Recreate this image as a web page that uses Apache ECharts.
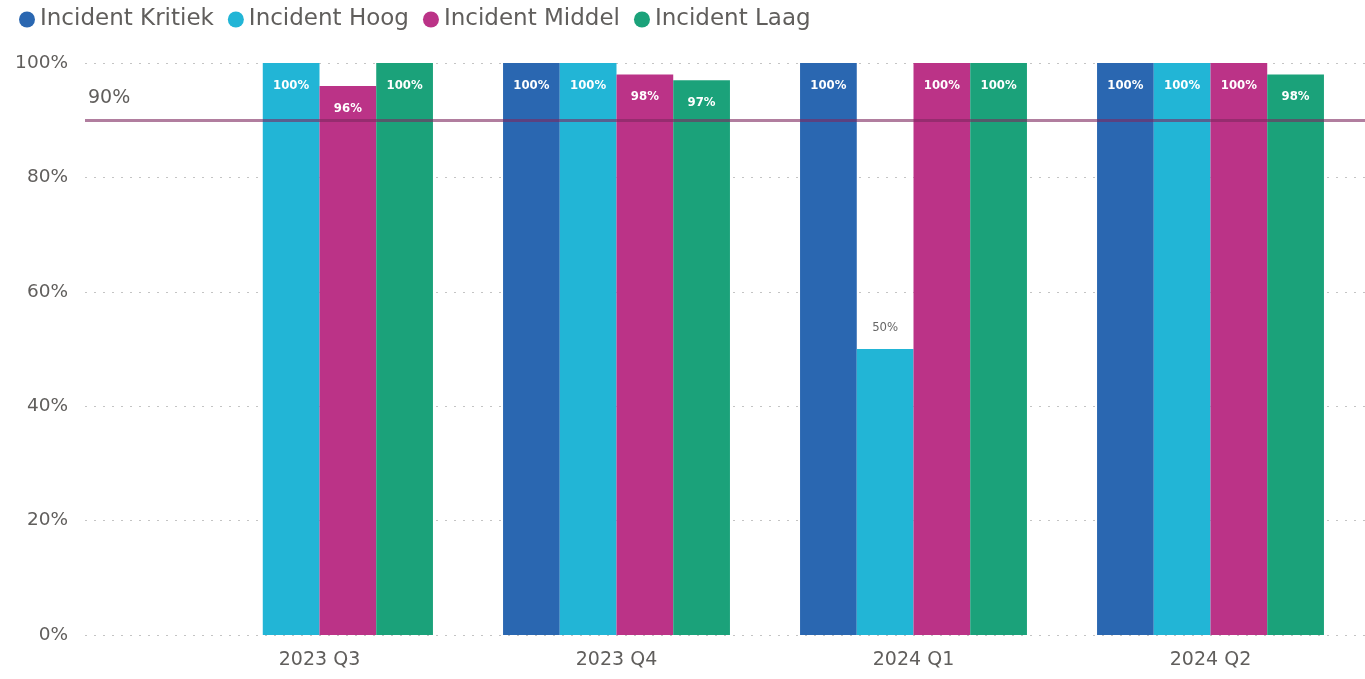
<!DOCTYPE html>
<html><head><meta charset="utf-8">
<script src="https://cdn.jsdelivr.net/npm/echarts@6/dist/echarts.min.js"></script>
<style>html,body{margin:0;padding:0;background:#fff}#c{width:1365px;height:679px}</style>
</head><body><div id="c"></div>
<script>
const categories = ['2023 Q3', '2023 Q4', '2024 Q1', '2024 Q2'];
const seriesNames = ['Incident Kritiek', 'Incident Hoog', 'Incident Middel', 'Incident Laag'];
const kritiek = [null, 100, 100, 100];
const hoog = [100, 100, 50, 100];
const middel = [96, 98, 100, 100];
const laag = [100, 97, 100, 98];
const yTicks = [0, 20, 40, 60, 80, 100];
const targetValue = 90;
const colors = ['#2A67B1', '#22B5D6', '#BB3387', '#1BA27A'];
const FONT = "'DejaVu Sans', sans-serif";
const FONT_C = "'DejaVu Sans Condensed', 'DejaVu Sans', sans-serif";

const values = [kritiek, hoog, middel, laag];
const chart = echarts.init(document.getElementById('c'));
const barSeries = values.map((arr, i) => ({
  name: seriesNames[i], type: 'bar', xAxisIndex: 1, yAxisIndex: 1,
  barGap: '0%', barCategoryGap: '23.6%',
  itemStyle: { color: colors[i] },
  data: arr.map(v => v === null ? null : {
    value: v,
    label: v < 70 ? { position: 'top', color: '#666', fontWeight: 'normal', distance: 15 } : undefined
  }),
  label: {
    show: true, position: 'insideTop', distance: 16, color: '#fff',
    fontFamily: FONT_C, fontSize: 13, fontWeight: 'bold',
    formatter: p => Math.round(p.value) + '%'
  }
}));

chart.setOption({
  animation: false,
  color: colors,
  legend: {
    left: 14, top: 3, itemGap: 14, itemWidth: 16, itemHeight: 16, icon: 'circle',
    data: seriesNames,
    textStyle: { fontFamily: FONT, fontSize: 23, color: '#605E5C', padding: [0, 0, 0, 0] }
  },
  grid: [
    { left: 85, right: 0, top: 63, bottom: 44 },
    { left: 171, right: 6, top: 63, bottom: 44 }
  ],
  xAxis: [
    { type: 'value', gridIndex: 0, min: 0, max: 1, show: false },
    { type: 'category', gridIndex: 1, data: categories,
      axisLine: { show: false }, axisTick: { show: false },
      axisLabel: { margin: 16, fontFamily: FONT, fontSize: 19, color: '#605E5C' } }
  ],
  yAxis: [
    { type: 'value', gridIndex: 0, min: yTicks[0], max: yTicks[yTicks.length - 1], interval: yTicks[1] - yTicks[0],
      axisLine: { show: false }, axisTick: { show: false },
      axisLabel: { margin: 17, fontFamily: FONT, fontSize: 18.5, color: '#605E5C', formatter: '{value}%' },
      splitLine: { lineStyle: { color: '#c4c4c4', width: 1, type: [2, 7] } } },
    { type: 'value', gridIndex: 1, min: yTicks[0], max: yTicks[yTicks.length - 1], show: false, splitLine: { show: false } }
  ],
  series: [
    ...barSeries,
    { type: 'line', xAxisIndex: 0, yAxisIndex: 0, data: [], z: 20,
      markLine: {
        silent: true, symbol: 'none', z: 20,
        lineStyle: { color: 'rgba(125,40,95,0.6)', width: 3, type: 'solid' },
        label: { show: true, position: 'insideStartTop', distance: [3, 13], formatter: targetValue + '%',
          fontFamily: FONT, fontSize: 19, color: '#605E5C' },
        data: [{ yAxis: targetValue }]
      } }
  ]
});
</script></body></html>
